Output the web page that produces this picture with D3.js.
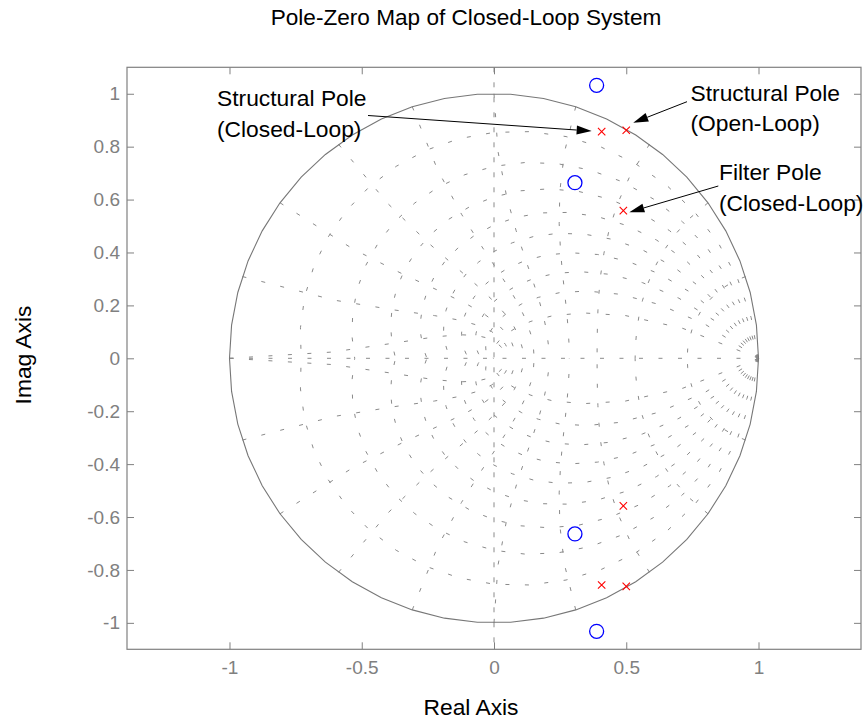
<!DOCTYPE html>
<html><head><meta charset="utf-8">
<script src="https://cdn.jsdelivr.net/npm/d3@7"></script>
<style>body{margin:0;background:#fff} text{font-family:Arial,"Liberation Sans",sans-serif}</style>
</head><body><svg id="c" width="864" height="721"></svg>
<script>
// ---- data ----
const poleReal = [0.407, 0.407, 0.500, 0.500, 0.489, 0.489];
const poleImag = [0.857, -0.857, 0.862, -0.862, 0.558, -0.558];
const zeroReal = [0.388, 0.388, 0.306, 0.306];
const zeroImag = [1.032, -1.032, 0.664, -0.664];
const xTicks = [-1, -0.5, 0, 0.5, 1];
const yTicks = [-1, -0.8, -0.6, -0.4, -0.2, 0, 0.2, 0.4, 0.6, 0.8, 1];
const zetaValues = [0.1, 0.2, 0.3, 0.4, 0.5, 0.6, 0.7, 0.8, 0.9];
const wnValues = [0.1, 0.2, 0.3, 0.4, 0.5, 0.6, 0.7, 0.8, 0.9, 1.0];
const annoLines = [["Structural Pole", "(Closed-Loop)"], ["Structural Pole", "(Open-Loop)"], ["Filter Pole", "(Closed-Loop)"]];
const annoTarget = [0, 2, 4]; // index into poles
const titleText = "Pole-Zero Map of Closed-Loop System";
const xLabel = "Real Axis", yLabel = "Imag Axis";

// ---- layout ----
const L = 127, R = 861, T = 67.3, B = 649.3;
const svg = d3.select("#c");
const x = d3.scaleLinear().domain([-1.3875, 1.3875]).range([L, R]);
const y = d3.scaleLinear().domain([-1.1, 1.1]).range([B, T]);
const grey = "#808080";
const line = d3.line().x(d => x(d[0])).y(d => y(d[1]));

// grid
const g = svg.append("g").attr("fill", "none").attr("stroke", "#8a8a8a").attr("stroke-width", 1).attr("stroke-dasharray", "4 15.5");
zetaValues.forEach(z => {
  const m = Math.tan(Math.asin(z));
  const pts = d3.range(0, 21).map(k => { const p = k * Math.PI / 20, r = Math.exp(-m * p); return [r * Math.cos(p), r * Math.sin(p)]; });
  g.append("path").attr("d", line(pts));
  g.append("path").attr("d", line(pts.map(d => [d[0], -d[1]])));
});
wnValues.forEach(w => {
  const pts = d3.range(0, 11).map(k => { const th = Math.PI / 2 + k * Math.PI / 20; const a = w * Math.PI * Math.cos(th), b = w * Math.PI * Math.sin(th), r = Math.exp(a); return [r * Math.cos(b), r * Math.sin(b)]; });
  g.append("path").attr("d", line(pts));
  g.append("path").attr("d", line(pts.map(d => [d[0], -d[1]])));
});
g.append("path").attr("d", line([[-1, 0], [1, 0]]));
svg.append("path").attr("d", line([[0, 1.1], [0, -1.1]])).attr("stroke", "#8a8a8a").attr("stroke-dasharray", "5 10").attr("fill", "none");

// unit circle
const circ = d3.range(0, 51).map(k => { const a = k * 2 * Math.PI / 50; return [Math.cos(a), Math.sin(a)]; });
svg.append("path").attr("d", line(circ)).attr("fill", "none").attr("stroke", "#777").attr("stroke-width", 1.1);

// axes
function styleAxis(sel) {
  sel.select(".domain").remove();
  sel.selectAll(".tick line").attr("stroke", grey);
  sel.selectAll(".tick text").attr("fill", grey).style("font-size", "19px").style("font-family", "Arial, 'Liberation Sans', sans-serif");
}
svg.append("g").attr("transform", `translate(0,${B})`)
  .call(d3.axisBottom(x).tickValues(xTicks).tickFormat(d => String(d)).tickSizeInner(-7).tickSizeOuter(0).tickPadding(11)).call(styleAxis);
svg.append("g").attr("transform", `translate(0,${T})`)
  .call(d3.axisTop(x).tickValues(xTicks).tickFormat("").tickSizeInner(-7).tickSizeOuter(0)).call(styleAxis);
svg.append("g").attr("transform", `translate(${L},0)`)
  .call(d3.axisLeft(y).tickValues(yTicks).tickFormat(d => String(d)).tickSizeInner(-7).tickSizeOuter(0).tickPadding(7)).call(styleAxis);
svg.append("g").attr("transform", `translate(${R},0)`)
  .call(d3.axisRight(y).tickValues(yTicks).tickFormat("").tickSizeInner(-7).tickSizeOuter(0)).call(styleAxis);
svg.append("rect").attr("x", L).attr("y", T).attr("width", R - L).attr("height", B - T)
  .attr("fill", "none").attr("stroke", grey).attr("stroke-width", 1.2);

// zeros
svg.append("g").selectAll("circle").data(zeroReal).join("circle")
  .attr("cx", d => x(d)).attr("cy", (d, i) => y(zeroImag[i])).attr("r", 7)
  .attr("fill", "none").attr("stroke", "#0000ff").attr("stroke-width", 1.3);
// poles
svg.append("g").selectAll("path").data(poleReal).join("path")
  .attr("d", (d, i) => { const cx = x(d), cy = y(poleImag[i]), s = 3.7; return `M${cx - s},${cy - s}L${cx + s},${cy + s}M${cx - s},${cy + s}L${cx + s},${cy - s}`; })
  .attr("stroke", "#ff0000").attr("stroke-width", 1.1).attr("fill", "none");

// annotations (text anchor / arrow start / arrow tip offsets in px)
const annoLayout = [
  { tx: 217, ty: 106, sx: 368, sy: 115.5, dx: -10, dy: -0.5 },
  { tx: 690.5, ty: 100.7, sx: 687, sy: 101.7, dx: 7, dy: -7.5 },
  { tx: 719, ty: 180, sx: 718.3, sy: 186, dx: 6, dy: 1.5 }
];
annoLines.forEach((lines, i) => {
  const a = annoLayout[i];
  const t = svg.append("text").attr("x", a.tx).attr("y", a.ty).style("font-size", "22.8px").attr("fill", "#000");
  lines.forEach((s, j) => t.append("tspan").attr("x", a.tx).attr("y", a.ty + j * 30.5).text(s));
  const ex = x(poleReal[annoTarget[i]]) + a.dx, ey = y(poleImag[annoTarget[i]]) + a.dy;
  const ang = Math.atan2(ey - a.sy, ex - a.sx), hl = 15, hw = 4.5;
  const bx = ex - hl * Math.cos(ang), by = ey - hl * Math.sin(ang);
  svg.append("line").attr("x1", a.sx).attr("y1", a.sy).attr("x2", bx).attr("y2", by).attr("stroke", "#000").attr("stroke-width", 1);
  svg.append("path").attr("d", `M${ex},${ey}L${bx - hw * Math.sin(ang)},${by + hw * Math.cos(ang)}L${bx + hw * Math.sin(ang)},${by - hw * Math.cos(ang)}Z`).attr("fill", "#000");
});

// titles
svg.append("text").attr("x", 466).attr("y", 25).attr("text-anchor", "middle").style("font-size", "22.6px").text(titleText);
svg.append("text").attr("x", 471).attr("y", 715).attr("text-anchor", "middle").style("font-size", "22.8px").text(xLabel);
svg.append("text").attr("transform", "translate(31,355) rotate(-90)").attr("text-anchor", "middle").style("font-size", "22.8px").text(yLabel);
</script></body></html>
